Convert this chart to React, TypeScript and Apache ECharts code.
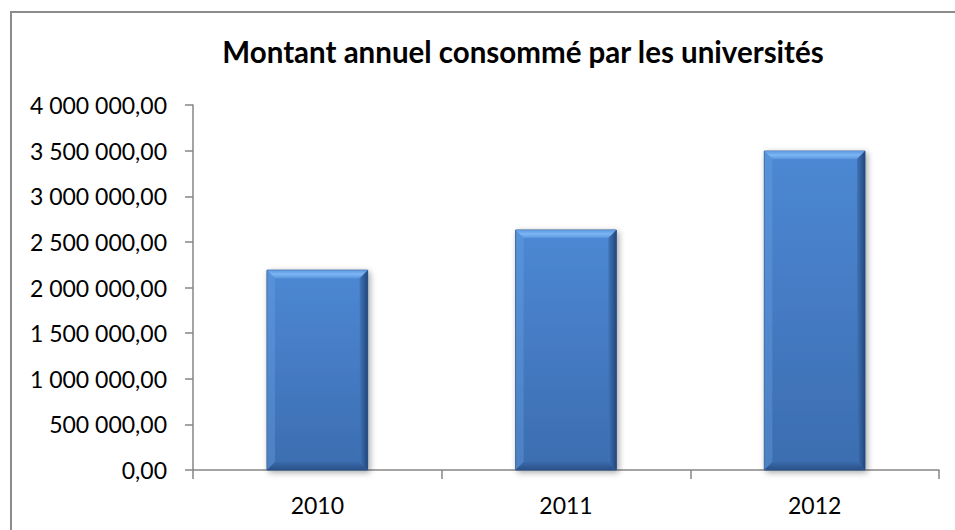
import React, { useEffect, useRef } from "react";
import * as echarts from "echarts";

const TITLE = "Montant annuel consommé par les universités";
const categories = ["2010", "2011", "2012"];
const values = [2190000, 2630000, 3495000];
const yMin = 0;
const yMax = 4000000;
const yInterval = 500000;

const FONT = "Lato, 'Open Sans', sans-serif";

function fmt(v: number): string {
  const s = Math.round(v).toString().replace(/\B(?=(\d{3})+(?!\d))/g, " ");
  return s + ",00";
}

export default function App() {
  const ref = useRef<HTMLDivElement>(null);
  useEffect(() => {
    if (!ref.current) return;
    const chart = echarts.init(ref.current, null, { renderer: "svg" });
    const option: any = {
      animation: false,
      backgroundColor: "#ffffff",
      title: {
        text: TITLE,
        left: 518,
        top: 31,
        textAlign: "center",
        textStyle: { fontFamily: FONT, fontWeight: "bold", fontSize: 29.5, color: "#000" },
      },
      graphic: [
        {
          type: "polyline",
          shape: { points: [[11, 540], [11, 12], [960, 12]] },
          style: { fill: "none", stroke: "#8c8c8c", lineWidth: 2 },
          silent: true,
          z: -1,
        },
      ],
      grid: { left: 193, right: 16, top: 105, bottom: 60, containLabel: false },
      xAxis: {
        type: "category",
        data: categories,
        boundaryGap: true,
        axisLine: { show: true, lineStyle: { color: "#868686", width: 1.5 } },
        axisTick: { show: true, length: 9, alignWithLabel: false, lineStyle: { color: "#868686", width: 1.5 } },
        axisLabel: { color: "#000", fontFamily: FONT, fontSize: 23, margin: 23 },
        splitLine: { show: false },
      },
      yAxis: {
        type: "value",
        min: yMin,
        max: yMax,
        interval: yInterval,
        axisLine: { show: true, lineStyle: { color: "#868686", width: 1.5 } },
        axisTick: { show: true, length: 8, lineStyle: { color: "#868686", width: 1.5 } },
        axisLabel: { color: "#000", fontFamily: FONT, fontSize: 23, margin: 26, formatter: (v: number) => fmt(v) },
        splitLine: { show: false },
      },
      series: [
        {
          type: "custom",
          data: values.map((v, i) => [i, v]),
          encode: { x: 0, y: 1 },
          renderItem: (params: any, api: any) => {
            const idx = api.value(0);
            const val = api.value(1);
            const top = api.coord([idx, val]);
            const base = api.coord([idx, 0]);
            const w = api.size([1, 0])[0] * 0.405;
            const x0 = top[0] - w / 2;
            const x1 = top[0] + w / 2;
            const y0 = top[1];
            const y1 = base[1];
            const b = 8;
            return {
              type: "group",
              children: [
                {
                  type: "rect",
                  shape: { x: x0, y: y0, width: w, height: y1 - y0 },
                  style: {
                    fill: {
                      type: "linear", x: 0, y: 0, x2: 0, y2: 1,
                      colorStops: [
                        { offset: 0, color: "#4d88d4" },
                        { offset: 1, color: "#3b6db0" },
                      ],
                    },
                    stroke: "#2f5a92",
                    lineWidth: 1,
                    shadowBlur: 6,
                    shadowColor: "rgba(0,0,0,0.35)",
                    shadowOffsetX: 2,
                    shadowOffsetY: 2,
                  },
                },
                {
                  type: "polygon",
                  shape: { points: [[x0, y0], [x1, y0], [x1 - b, y0 + b], [x0 + b, y0 + b]] },
                  style: {
                    fill: {
                      type: "linear", x: 0, y: 0, x2: 0, y2: 1,
                      colorStops: [
                        { offset: 0, color: "#5d98e0" },
                        { offset: 0.5, color: "#7db6f4" },
                        { offset: 1, color: "#5a95df" },
                      ],
                    },
                  },
                },
                {
                  type: "polygon",
                  shape: { points: [[x0, y0], [x0 + b, y0 + b], [x0 + b, y1 - b], [x0, y1]] },
                  style: { fill: "rgba(110,165,230,0.35)" },
                },
                {
                  type: "polygon",
                  shape: { points: [[x1, y0], [x1, y1], [x1 - b, y1 - b], [x1 - b, y0 + b]] },
                  style: {
                    fill: {
                      type: "linear", x: 0, y: 0, x2: 1, y2: 0,
                      colorStops: [
                        { offset: 0, color: "#3f74b8" },
                        { offset: 1, color: "#23477a" },
                      ],
                    },
                  },
                },
                {
                  type: "polygon",
                  shape: { points: [[x0, y1], [x1, y1], [x1 - b, y1 - b], [x0 + b, y1 - b]] },
                  style: {
                    fill: {
                      type: "linear", x: 0, y: 0, x2: 0, y2: 1,
                      colorStops: [
                        { offset: 0, color: "#3a6aab" },
                        { offset: 1, color: "#2a5088" },
                      ],
                    },
                  },
                },
              ],
            };
          },
        },
      ],
    };
    chart.setOption(option);
    return () => chart.dispose();
  }, []);
  return (
    <div
      ref={ref}
      style={{ position: "absolute", left: 0, top: 0, width: 955, height: 530 }}
    />
  );
}
